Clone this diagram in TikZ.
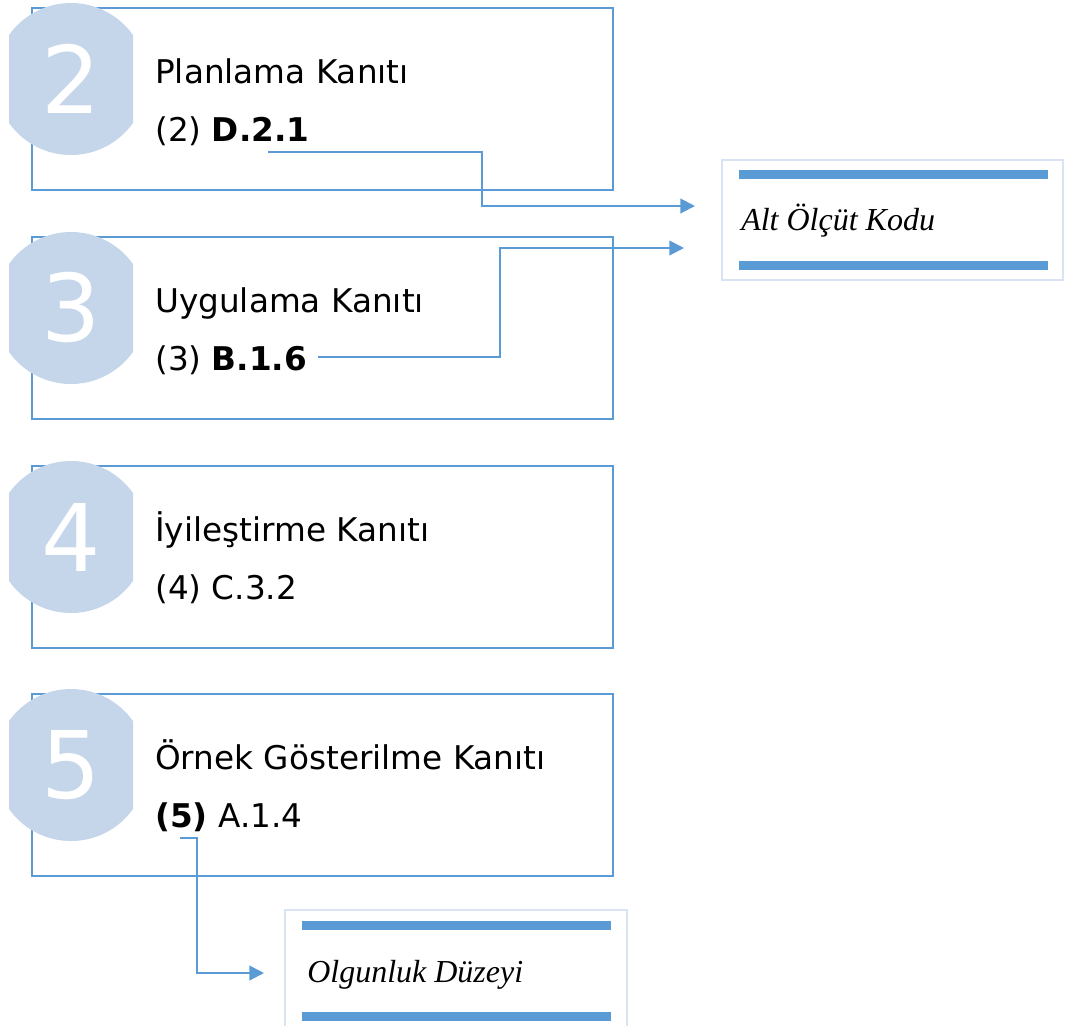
\documentclass[tikz,border=0pt]{standalone}
\usepackage{fontspec}
\setmainfont{DejaVu Sans}
\newfontfamily\serifit{Liberation Serif}
\usetikzlibrary{arrows.meta}
\definecolor{kanitmavi}{RGB}{91,155,213}
\definecolor{dairemavi}{RGB}{197,214,235}
\definecolor{kutuacik}{RGB}{218,227,243}
\tikzset{
  kanitkutu/.style={draw=kanitmavi,line width=1pt},
  baslik/.style={anchor=base west,inner sep=0pt,font=\fontsize{24.5}{29}\selectfont},
  rakam/.style={text=white,inner sep=0pt,font=\fontsize{70}{80}\selectfont},
  yonok/.style={draw=kanitmavi,line width=1.5pt,-{Triangle[length=11pt,width=11pt]}},
  yankutu/.style={draw=kutuacik,line width=1.5pt},
  yanbaslik/.style={anchor=base west,inner sep=0pt,font=\serifit\itshape\fontsize{24}{28}\selectfont},
  yanbar/.style={fill=kanitmavi}
}
\begin{document}
\begin{tikzpicture}[x=0.75pt,y=-0.75pt]
\useasboundingbox (0,0) rectangle (1069,1025);
% kanit kutulari
\foreach \ust/\no/\ad/\kod in {8/2/Planlama Kanıtı/(2) \textbf{D.2.1},
    237/3/Uygulama Kanıtı/(3) \textbf{B.1.6},
    466/4/İyileştirme Kanıtı/(4) C.3.2,
    694/5/Örnek Gösterilme Kanıtı/\textbf{(5)} A.1.4}{
  \draw[kanitkutu] (32,\ust) rectangle (613,\ust+182);
  \begin{scope}
    \clip (9,\ust-10) rectangle (133,\ust+170);
    \fill[dairemavi] (71,\ust+71) circle (76);
  \end{scope}
  \node[rakam] (r\no) at (71,\ust+71) {\no};
  \node[baslik] (b\no) at (155,\ust+75) {\ad};
  \node[baslik] (k\no) at (155,\ust+133) {\kod};
}
% alt olcut kodu
\draw[yankutu] (722,160) rectangle (1063,280);
\fill[yanbar] (739,170) rectangle (1048,179);
\fill[yanbar] (739,261) rectangle (1048,270);
\node[yanbaslik] (alt) at (741,230) {Alt Ölçüt Kodu};
% olgunluk duzeyi
\draw[yankutu] (285,1040) -- (285,910) -- (627,910) -- (627,1040);
\fill[yanbar] (302,921) rectangle (611,930);
\fill[yanbar] (302,1012) rectangle (611,1021);
\node[yanbaslik] (olg) at (307,982) {Olgunluk Düzeyi};
% baglantilar
\coordinate (d21) at (268,152);
\coordinate (b16) at (318,357);
\coordinate (bes) at (180,838);
\coordinate (altok1) at (695,206);
\coordinate (altok2) at (684,248);
\coordinate (olgok) at (264,973);
\draw[yonok] (d21) -| (482,206) -- (altok1);
\draw[yonok] (b16) -| (500,248) -- (altok2);
\draw[yonok] (bes) -| (197,973) -- (olgok);
\end{tikzpicture}
\end{document}
